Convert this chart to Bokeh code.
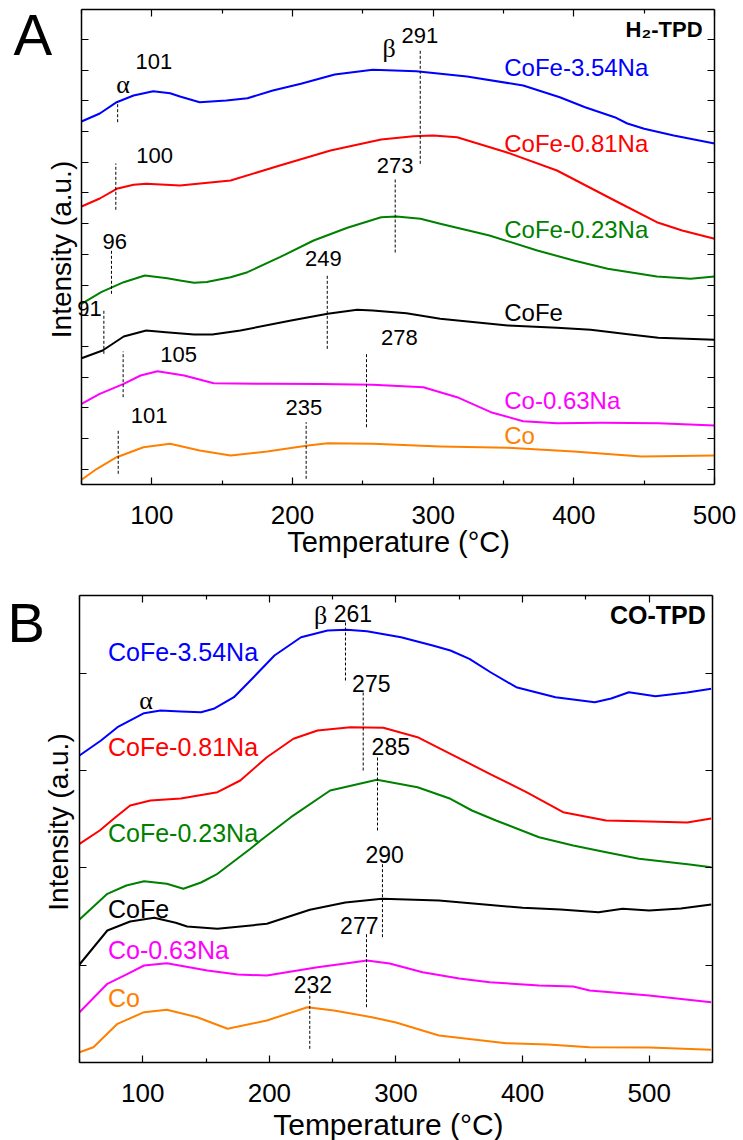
import math
from bokeh.plotting import figure
from bokeh.models import Range1d, FixedTicker, LinearAxis, Label, CustomJSTickFormatter, Grid
from bokeh.layouts import column
from bokeh.embed import file_html
from bokeh.resources import INLINE

# ---------------- DATA: panel A, H2-TPD (temperature in °C, intensity in a.u.) ----------------
h2_names = ["CoFe-3.54Na", "CoFe-0.81Na", "CoFe-0.23Na", "CoFe", "Co-0.63Na", "Co"]
h2_colors = ["#0000FF", "#FF0000", "#008000", "#000000", "#FF00FF", "#FF8000"]

h2_T_cofe354 = [50, 63, 75, 87, 101, 113, 120, 134, 153, 168, 186, 206, 230, 257, 288, 324, 364, 390, 408, 429, 438, 450, 471, 500]
h2_I_cofe354 = [363, 371, 382.3, 389, 393.3, 391.3, 388, 382.3, 384, 386.3, 394, 400.7, 410, 414.7, 413.3, 408, 399, 387.3, 377.3, 367.3, 361, 355.7, 349, 341]

h2_T_cofe081 = [50, 63, 75, 87, 96, 120, 156, 191, 227, 263, 286, 300, 317, 352, 388, 429, 459, 477, 500]
h2_I_cofe081 = [278, 286, 295.7, 299.7, 300.7, 299, 304, 319, 334, 345, 348.3, 349, 347.3, 332.3, 314, 284, 262.3, 254, 245.7]

h2_T_cofe023 = [50, 64, 80, 95, 111, 120, 130, 139, 156, 168, 191, 215, 239, 263, 274, 291, 305, 340, 374, 400, 424, 459, 483, 500]
h2_I_cofe023 = [180.7, 192.3, 202.3, 209, 206.3, 204, 201.7, 202.5, 207.3, 212.3, 227.3, 244, 256.7, 267.3, 268, 265.7, 260.7, 249, 234, 224, 215.7, 208, 205.7, 208]

h2_T_cofe = [50, 65, 80, 96, 110, 130, 143, 163, 199, 225, 246, 257, 281, 305, 353, 388, 412, 440, 460, 500]
h2_I_cofe = [126.3, 134, 148, 154, 152.3, 150, 150, 154, 164, 170.7, 174.7, 174, 171.3, 165.7, 159, 156.7, 154.7, 150, 146.7, 144.7]

h2_T_co063 = [50, 63, 80, 92, 104, 123, 144, 182, 220, 257, 293, 317, 341, 364, 388, 420, 460, 500]
h2_I_co063 = [80.7, 90.7, 100.7, 109, 113.3, 109, 101.3, 100.7, 100.5, 99.7, 97.3, 87.3, 72.3, 63.3, 61.3, 61.8, 61.3, 59]

h2_T_co = [50, 61, 75, 94, 113, 134, 156, 182, 211, 225, 257, 305, 353, 400, 448, 475, 500]
h2_I_co = [4.7, 15.7, 27.3, 37.3, 40.7, 34, 29, 33, 39, 41.3, 40.7, 38, 36.7, 33, 28, 28.5, 29]

# peak labels (text) and their dashed marker lines
h2_peak_text = ["101", "100", "291", "273", "96", "249", "91", "105", "278", "101", "235"]
h2_mark_T = [75.7, 74.4, 290.8, 273, 71.3, 224.7, 65.9, 79.6, 252.6, 76.1, 209.7]
h2_mark_lo = [362.3, 274.7, 320.7, 232, 190.7, 135.7, 130.7, 87.3, 57.3, 10.7, 5.7]
h2_mark_hi = [383.3, 321, 434, 306, 234, 209, 175.7, 133, 132.3, 55.7, 62.3]

# ---------------- DATA: panel B, CO-TPD ----------------
co_T_cofe354 = [50, 67, 80, 101, 114, 130, 146, 156, 172, 185, 204, 225, 246, 261, 277, 304, 329, 343, 358, 375, 395, 426, 457, 470, 484, 505, 530, 549]
co_I_cofe354 = [307, 322, 335.3, 349.3, 352, 351, 350.3, 353.7, 365.3, 382, 407, 425.3, 432, 432.7, 431.3, 425.3, 417, 412, 403.7, 390, 375.3, 365.3, 360.3, 364, 370.3, 366.3, 370, 373.7]

co_T_cofe081 = [50, 66, 77, 90, 106, 130, 159, 177, 198, 219, 238, 264, 290, 317, 343, 374, 403, 432, 466, 500, 530, 549]
co_I_cofe081 = [218.7, 232, 243.7, 257, 262, 264, 270.3, 282, 305.3, 323.7, 332, 335.3, 334.7, 325.3, 308.7, 288.7, 270.3, 250.3, 242, 241, 240, 244]

co_T_cofe023 = [50, 72, 87, 101, 119, 132, 146, 159, 185, 193, 217, 248, 285, 317, 343, 360, 379, 413, 440, 466, 492, 532, 549]
co_I_cofe023 = [143, 168.7, 177, 181.3, 178.7, 173.7, 180, 188.7, 213.7, 222, 245.3, 272, 282.7, 275.3, 263.7, 252, 242, 225.3, 217, 210.3, 203.7, 198, 195.3]

co_T_cofe = [50, 72, 90, 109, 126, 135, 159, 198, 232, 260, 289, 334, 370, 400, 430, 460, 479, 500, 525, 549]
co_I_cofe = [98, 132, 141, 144.7, 139.7, 136, 133.7, 138.7, 152.7, 160, 163.7, 162, 158, 154.7, 153, 150.3, 153.7, 152, 154, 158]

co_T_co063 = [50, 72, 88, 101, 119, 151, 175, 198, 238, 260, 277, 295, 321, 350, 374, 413, 440, 453, 500, 549]
co_I_co063 = [50.3, 78.7, 88.7, 97, 99.3, 92, 88, 87, 95.3, 99, 102, 99, 90.3, 84, 80.3, 77, 76, 72, 67, 60.3]

co_T_co = [50, 61, 80, 101, 119, 143, 167, 198, 230, 251, 281, 300, 334, 387, 420, 453, 500, 549]
co_I_co = [10.3, 15.3, 38.7, 50.3, 52.7, 45.3, 33.7, 42, 55.3, 52, 45.3, 40, 27, 19.3, 18, 15.3, 15, 12.7]

co_peak_text = ["261", "275", "285", "290", "277", "232"]
co_mark_T = [260.1, 274.1, 285.4, 289.3, 276.7, 231.9]
co_mark_lo = [382, 292, 232, 125.3, 55.3, 13.7]
co_mark_hi = [442, 370.3, 305.3, 200.3, 128.7, 70.3]

x_major_A = [100, 200, 300, 400, 500]
x_minor_A = [50, 150, 250, 350, 450]
x_major_B = [100, 200, 300, 400, 500]
x_minor_B = [50, 150, 250, 350, 450, 550]

SANS = "Liberation Sans"
SERIF = "Liberation Serif"


def blank():
    return CustomJSTickFormatter(code="return ''")


def make_fig(view_x, view_y, box_x, box_y, xmaj, xmin, yt):
    # the frame fills the whole canvas; the four axes are drawn at the data box edges
    p = figure(width=743, height=570, x_range=Range1d(*view_x), y_range=Range1d(*view_y),
               output_backend="svg", toolbar_location=None, title=None,
               x_axis_location=None, y_axis_location=None, min_border=0)
    for r in list(p.center):
        if isinstance(r, Grid):
            r.visible = False
    p.outline_line_color = None
    p.background_fill_color = "white"
    p.border_fill_color = "white"
    xt = FixedTicker(ticks=xmaj, minor_ticks=xmin)
    ytk = FixedTicker(ticks=yt, minor_ticks=[])
    bottom = LinearAxis(ticker=xt, fixed_location=box_y[0], bounds=box_x)
    top = LinearAxis(ticker=xt, fixed_location=box_y[1], bounds=box_x, formatter=blank())
    left = LinearAxis(ticker=ytk, fixed_location=box_x[0], bounds=box_y, formatter=blank())
    right = LinearAxis(ticker=ytk, fixed_location=box_x[1], bounds=box_y, formatter=blank())
    p.add_layout(bottom, "below")
    p.add_layout(top, "above")
    p.add_layout(left, "left")
    p.add_layout(right, "right")
    for ax in [bottom, top, left, right]:
        ax.axis_line_width = 1.5
        ax.axis_line_color = "black"
        ax.major_tick_in = 7
        ax.major_tick_out = 0
        ax.minor_tick_in = 4
        ax.minor_tick_out = 0
        ax.major_tick_line_width = 1.2
        ax.minor_tick_line_width = 1.2
    for ax in [top, left, right]:
        ax.major_label_standoff = 0
    bottom.major_label_text_font = SANS
    bottom.major_label_text_font_size = "26px"
    bottom.major_label_text_color = "black"
    bottom.major_label_standoff = 21
    return p


def lab(p, x, y, text, size, color="black", align="center", font=SANS, bold=False, angle=0.0):
    p.add_layout(Label(x=x, y=y, text=text, text_font=font, text_font_size=size,
                       text_color=color, text_align=align, text_baseline="middle",
                       text_font_style="bold" if bold else "normal", angle=angle))


# ---------------- Panel A ----------------
yt_A = [15.3 + 30.7 * k for k in range(15)]
pA = make_fig((-7.58, 520.6), (-86, 484), (50, 500), (0, 475), x_major_A, x_minor_A, yt_A)

h2_series = [(h2_T_cofe354, h2_I_cofe354), (h2_T_cofe081, h2_I_cofe081), (h2_T_cofe023, h2_I_cofe023),
             (h2_T_cofe, h2_I_cofe), (h2_T_co063, h2_I_co063), (h2_T_co, h2_I_co)]
for (t, i), c in zip(h2_series, h2_colors):
    pA.line(t, i, line_color=c, line_width=2, line_join="round")
pA.segment(x0=h2_mark_T, y0=h2_mark_lo, x1=h2_mark_T, y1=h2_mark_hi,
           line_color="black", line_width=1, line_dash="3 2")

h2_label_y = [417, 341.5, 255, 172.5, 84, 49]
for name, c, yy in zip(h2_names, h2_colors, h2_label_y):
    lab(pA, 350.5, yy, name, "24px", color=c, align="left")

h2_peak_pos = [(101.5, 423.5), (102, 329.5), (290.6, 449), (273, 319.5), (73.6, 243.3), (222, 226.5),
               (55.7, 176.5), (119, 129.7), (276, 147.5), (98, 69), (208, 77.5)]
for txt, (xx, yy) in zip(h2_peak_text, h2_peak_pos):
    lab(pA, xx, yy, txt, "22px")
lab(pA, 79.5, 400.5, "α", "26px", font=SERIF)
lab(pA, 268.7, 436.5, "β", "26px", font=SERIF)
lab(pA, 491.5, 454.8, "H₂-TPD", "22px", align="right", bold=True)
lab(pA, 1.66, 450, "A", "58px", align="left")
lab(pA, 275.4, -57.7, "Temperature (°C)", "29px")
lab(pA, 35.6, 235, "Intensity (a.u.)", "28px", angle=math.pi / 2)

# ---------------- Panel B ----------------
yt_B = [97.3 * k for k in range(5)]
pB = make_fig((-12.4, 574.5), (-78, 492), (50, 550), (0, 467), x_major_B, x_minor_B, yt_B)

co_series = [(co_T_cofe354, co_I_cofe354), (co_T_cofe081, co_I_cofe081), (co_T_cofe023, co_I_cofe023),
             (co_T_cofe, co_I_cofe), (co_T_co063, co_I_co063), (co_T_co, co_I_co)]
for (t, i), c in zip(co_series, h2_colors):
    pB.line(t, i, line_color=c, line_width=2, line_join="round")
pB.segment(x0=co_mark_T, y0=co_mark_lo, x1=co_mark_T, y1=co_mark_hi,
           line_color="black", line_width=1, line_dash="3 2")

co_label_y = [411, 316, 229.5, 154, 113, 64.5]
for name, c, yy in zip(h2_names, h2_colors, co_label_y):
    lab(pB, 72.5, yy, name, "25px", color=c, align="left")

co_peak_pos = [(266, 449.5), (280.5, 379.5), (295.9, 316.5), (291, 207.8), (271, 137), (234.4, 77.8)]
for txt, (xx, yy) in zip(co_peak_text, co_peak_pos):
    lab(pB, xx, yy, txt, "23px")
lab(pB, 240.4, 447, "β", "26px", font=SERIF)
lab(pB, 102.5, 362, "α", "26px", font=SERIF)
lab(pB, 544.7, 447.8, "CO-TPD", "25px", align="right", bold=True)
lab(pB, -6.9, 440.3, "B", "56px", align="left")
lab(pB, 294, -61.5, "Temperature (°C)", "30px")
lab(pB, 33.6, 240.5, "Intensity (a.u.)", "28px", angle=math.pi / 2)

layout = column(pA, pB, spacing=0)
open("out.html", "w").write(file_html(layout, INLINE))
